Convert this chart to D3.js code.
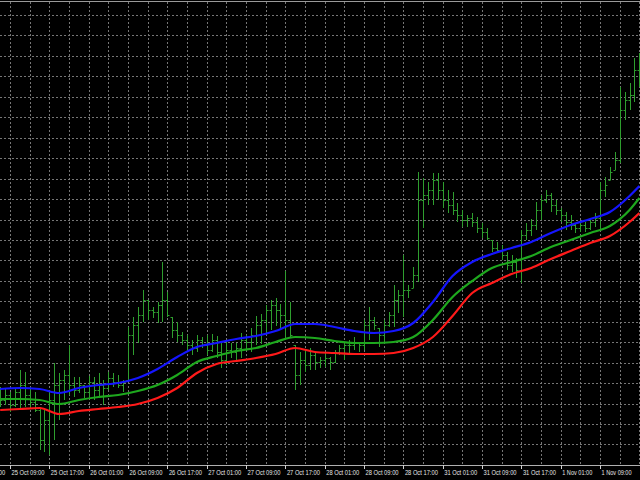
<!DOCTYPE html>
<html>
<head>
<meta charset="utf-8">
<script src="https://cdn.jsdelivr.net/npm/d3@7/dist/d3.min.js"></script>
<style>
html,body{margin:0;padding:0;background:#000;}
svg{display:block;}
</style>
</head>
<body>
<svg id="chart" width="640" height="480"></svg>
<script>
// ---- DATA (hourly OHLC bars, index 0 = 25 Oct 07:00) ----
const highs = [
1.0613,1.0612,1.0608,1.0612,1.0630,1.0628,1.0613,1.0608,1.0593,1.0590,
1.0608,1.0637,1.0627,1.0630,1.0655,1.0623,1.0623,1.0615,1.0624,1.0623,
1.0627,1.0620,1.0628,1.0627,1.0625,1.0620,1.0673,1.0683,1.0693,1.0710,
1.0700,1.0693,1.0698,1.0738,1.0708,1.0683,1.0678,1.0668,1.0665,1.0660,
1.0665,1.0663,1.0665,1.0666,1.0664,1.0657,1.0660,1.0657,1.0657,1.0667,
1.0665,1.0672,1.0684,1.0686,1.0695,1.0700,1.0702,1.0696,1.0729,1.0698,
1.0655,1.0648,1.0650,1.0652,1.0647,1.0643,1.0648,1.0643,1.0650,1.0655,
1.0658,1.0660,1.0663,1.0658,1.0680,1.0693,1.0683,1.0672,1.0680,1.0688,
1.0715,1.0710,1.0745,1.0715,1.0733,1.0828,1.0822,1.0818,1.0827,1.0827,
1.0818,1.0810,1.0808,1.0797,1.0790,1.0785,1.0787,1.0783,1.0777,1.0772,
1.0760,1.0758,1.0755,1.0748,1.0745,1.0742,1.0770,1.0777,1.0781,1.0798,
1.0805,1.0810,1.0807,1.0800,1.0792,1.0788,1.0785,1.0777,1.0778,1.0778,
1.0782,1.0787,1.0818,1.0823,1.0833,1.0848,1.0913,1.0908,1.0917,1.0942,1.0947];
const lows = [
1.0593,1.0595,1.0588,1.0593,1.0590,1.0593,1.0592,1.0588,1.0550,1.0548,
1.0545,1.0560,1.0580,1.0600,1.0605,1.0603,1.0607,1.0602,1.0602,1.0600,
1.0602,1.0595,1.0610,1.0613,1.0612,1.0608,1.0618,1.0645,1.0657,1.0678,
1.0680,1.0682,1.0677,1.0678,1.0683,1.0662,1.0658,1.0655,1.0648,1.0645,
1.0648,1.0652,1.0645,1.0648,1.0642,1.0632,1.0635,1.0642,1.0638,1.0642,
1.0650,1.0648,1.0655,1.0656,1.0666,1.0670,1.0674,1.0670,1.0660,1.0662,
1.0610,1.0615,1.0628,1.0630,1.0630,1.0632,1.0633,1.0630,1.0637,1.0645,
1.0640,1.0647,1.0650,1.0648,1.0650,1.0660,1.0670,1.0653,1.0658,1.0673,
1.0673,1.0687,1.0683,1.0702,1.0712,1.0718,1.0772,1.0795,1.0795,1.0800,
1.0792,1.0787,1.0785,1.0778,1.0773,1.0773,1.0773,1.0767,1.0762,1.0760,
1.0748,1.0747,1.0740,1.0730,1.0728,1.0722,1.0717,1.0760,1.0764,1.0770,
1.0780,1.0797,1.0788,1.0785,1.0778,1.0770,1.0770,1.0767,1.0768,1.0768,
1.0770,1.0773,1.0770,1.0803,1.0820,1.0830,1.0837,1.0880,1.0890,1.0898,1.0913];
const opens = [
1.0605,1.0600,1.0605,1.0595,1.0608,1.0615,1.0605,1.0598,1.0590,1.0560,
1.0580,1.0600,1.0615,1.0620,1.0625,1.0615,1.0610,1.0615,1.0608,1.0618,
1.0610,1.0615,1.0612,1.0622,1.0618,1.0615,1.0620,1.0665,1.0675,1.0685,
1.0700,1.0690,1.0688,1.0695,1.0700,1.0683,1.0670,1.0665,1.0660,1.0655,
1.0652,1.0660,1.0655,1.0650,1.0660,1.0648,1.0640,1.0650,1.0648,1.0652,
1.0660,1.0658,1.0665,1.0675,1.0680,1.0690,1.0695,1.0690,1.0685,1.0680,
1.0655,1.0625,1.0640,1.0635,1.0645,1.0638,1.0640,1.0642,1.0638,1.0648,
1.0652,1.0655,1.0655,1.0658,1.0655,1.0675,1.0680,1.0672,1.0665,1.0675,
1.0685,1.0700,1.0705,1.0710,1.0712,1.0725,1.0800,1.0805,1.0810,1.0820,
1.0810,1.0800,1.0795,1.0790,1.0785,1.0780,1.0782,1.0778,1.0772,1.0768,
1.0760,1.0752,1.0750,1.0745,1.0735,1.0738,1.0730,1.0765,1.0770,1.0775,
1.0790,1.0800,1.0805,1.0795,1.0790,1.0785,1.0778,1.0775,1.0772,1.0775,
1.0772,1.0778,1.0782,1.0810,1.0820,1.0830,1.0840,1.0890,1.0900,1.0905,1.0930];
const closes = [
1.0600,1.0605,1.0595,1.0608,1.0615,1.0605,1.0598,1.0590,1.0560,1.0580,
1.0600,1.0615,1.0620,1.0625,1.0615,1.0610,1.0615,1.0608,1.0618,1.0610,
1.0615,1.0612,1.0622,1.0618,1.0615,1.0618,1.0665,1.0675,1.0685,1.0700,
1.0690,1.0688,1.0695,1.0700,1.0685,1.0670,1.0665,1.0660,1.0655,1.0652,
1.0660,1.0655,1.0650,1.0660,1.0648,1.0640,1.0650,1.0648,1.0652,1.0660,
1.0658,1.0665,1.0675,1.0680,1.0690,1.0695,1.0690,1.0685,1.0680,1.0665,
1.0625,1.0640,1.0635,1.0645,1.0638,1.0640,1.0642,1.0638,1.0648,1.0652,
1.0655,1.0655,1.0658,1.0655,1.0675,1.0680,1.0675,1.0665,1.0675,1.0685,
1.0700,1.0705,1.0710,1.0710,1.0725,1.0800,1.0805,1.0810,1.0820,1.0810,
1.0800,1.0795,1.0790,1.0785,1.0780,1.0782,1.0778,1.0772,1.0768,1.0762,
1.0752,1.0750,1.0745,1.0735,1.0738,1.0730,1.0765,1.0770,1.0775,1.0790,
1.0800,1.0805,1.0795,1.0790,1.0785,1.0778,1.0775,1.0772,1.0775,1.0772,
1.0778,1.0782,1.0810,1.0815,1.0828,1.0840,1.0890,1.0900,1.0905,1.0930,1.0940];

// moving-average envelope lines, read at every 4th bar
const maIndex = [0,4,8,12,16,20,24,28,32,36,40,44,48,52,56,60,64,68,72,76,80,84,88,92,96,100,104,108,112,116,120,124,128,130];
const maUpper = [1.0611,1.0612,1.0611,1.0607,1.0612,1.0615,1.0617,1.0622,1.0631,1.0643,1.0653,1.0657,1.0661,1.0664,1.0669,1.0676,1.0676,1.0673,1.0669,1.0667,1.0669,1.0677,1.0698,1.0724,1.0738,1.0746,1.0752,1.0758,1.0767,1.0775,1.0781,1.0788,1.0804,1.0814];
const maMiddle = [1.0601,1.0601,1.0600,1.0596,1.0600,1.0603,1.0605,1.0609,1.0615,1.0625,1.0638,1.0644,1.0649,1.0652,1.0658,1.0663,1.0662,1.0659,1.0657,1.0657,1.0658,1.0663,1.0680,1.0703,1.0719,1.0732,1.0738,1.0744,1.0753,1.0760,1.0767,1.0774,1.0790,1.0802];
const maLower = [1.0590,1.0591,1.0592,1.0586,1.0589,1.0591,1.0593,1.0596,1.0602,1.0612,1.0627,1.0636,1.0639,1.0642,1.0646,1.0652,1.0648,1.0647,1.0646,1.0646,1.0647,1.0652,1.0663,1.0684,1.0707,1.0717,1.0726,1.0732,1.0741,1.0749,1.0757,1.0764,1.0778,1.0787];

// time axis labels (bar index -> label)
const tickIndex = [-6,2,10,18,26,34,42,50,58,66,74,82,90,98,106,114,122];
const tickLabels = ["25 Oct 01:00","25 Oct 09:00","25 Oct 17:00","26 Oct 01:00","26 Oct 09:00","26 Oct 17:00",
  "27 Oct 01:00","27 Oct 09:00","27 Oct 17:00","28 Oct 01:00","28 Oct 09:00","28 Oct 17:00",
  "31 Oct 01:00","31 Oct 09:00","31 Oct 17:00","1 Nov 01:00","1 Nov 09:00"];

// price grid
const gridTop = 1.0985, gridStep = 0.002045, gridCount = 22;

// ---- DRAW ----
const W = 640, H = 480, plotBottom = 465;
const svg = d3.select("#chart");
svg.append("rect").attr("width", W).attr("height", H).attr("fill", "#000");

const x = d3.scaleLinear().domain([0, 130]).range([0.2, 639.4]);
const y = d3.scaleLinear().domain([1.0535, 1.1000]).range([plotBottom, 0]);
const px = v => Math.round(v) + 0.5;

// grid
const gridG = svg.append("g").attr("stroke", "#767676").attr("stroke-width", 1).attr("stroke-dasharray", "2,2");
const hGrid = d3.range(gridCount).map(i => gridTop - i * gridStep);
gridG.selectAll("line.h").data(hGrid).join("line").attr("class", "h")
  .attr("x1", 0).attr("x2", W).attr("y1", d => px(y(d))).attr("y2", d => px(y(d)));
const vGrid = d3.range(2, 131, 4);
gridG.selectAll("line.v").data(vGrid).join("line").attr("class", "v")
  .attr("x1", d => px(x(d))).attr("x2", d => px(x(d))).attr("y1", 2).attr("y2", plotBottom);

// top border
svg.append("line").attr("x1", 0).attr("x2", W).attr("y1", 1.5).attr("y2", 1.5).attr("stroke", "#9a9a9a").attr("stroke-width", 1);

// OHLC bars
const bars = d3.range(highs.length).map(i => ({i, h: highs[i], l: lows[i], o: opens[i], c: closes[i]}));
const barG = svg.append("g").attr("stroke", "#2e9e2e").attr("stroke-width", 1);
const bg = barG.selectAll("g").data(bars).join("g");
bg.append("line").attr("x1", d => px(x(d.i))).attr("x2", d => px(x(d.i)))
  .attr("y1", d => y(d.h)).attr("y2", d => y(d.l));
bg.append("line").attr("x1", d => px(x(d.i)) - 2).attr("x2", d => px(x(d.i)))
  .attr("y1", d => px(y(d.o))).attr("y2", d => px(y(d.o)));
bg.append("line").attr("x1", d => px(x(d.i))).attr("x2", d => px(x(d.i)) + 2)
  .attr("y1", d => px(y(d.c))).attr("y2", d => px(y(d.c)));

// MA lines
const lineGen = d3.line().x(d => x(d[0])).y(d => y(d[1])).curve(d3.curveMonotoneX);
[[maUpper, "#1515ff"], [maMiddle, "#1ea81e"], [maLower, "#ff1a1a"]].forEach(([vals, col]) => {
  svg.append("path").datum(maIndex.map((k, j) => [k, vals[j]]))
    .attr("d", lineGen).attr("fill", "none").attr("stroke", col).attr("stroke-width", 2.2)
    .attr("stroke-linejoin", "round");
});

// bottom axis
svg.append("line").attr("x1", 0).attr("x2", W).attr("y1", plotBottom + 0.5).attr("y2", plotBottom + 0.5)
  .attr("stroke", "#b0b0b0").attr("stroke-width", 1);
const axG = svg.append("g");
const ticks = tickIndex.map((k, j) => ({k, label: tickLabels[j]}));
axG.selectAll("line").data(ticks).join("line")
  .attr("x1", d => px(x(d.k))).attr("x2", d => px(x(d.k)))
  .attr("y1", plotBottom).attr("y2", plotBottom + 4)
  .attr("stroke", "#d0d0d0").attr("stroke-width", 1);
axG.selectAll("text").data(ticks).join("text")
  .attr("x", d => x(d.k) + 1.5).attr("y", 475)
  .attr("fill", "#e6e6e6")
  .attr("font-family", "'Liberation Sans', Arial, sans-serif")
  .attr("font-size", "7px")
  .attr("textLength", d => d.label.length >= 12 ? 33 : 30)
  .attr("lengthAdjust", "spacingAndGlyphs")
  .text(d => d.label);
</script>
</body>
</html>
